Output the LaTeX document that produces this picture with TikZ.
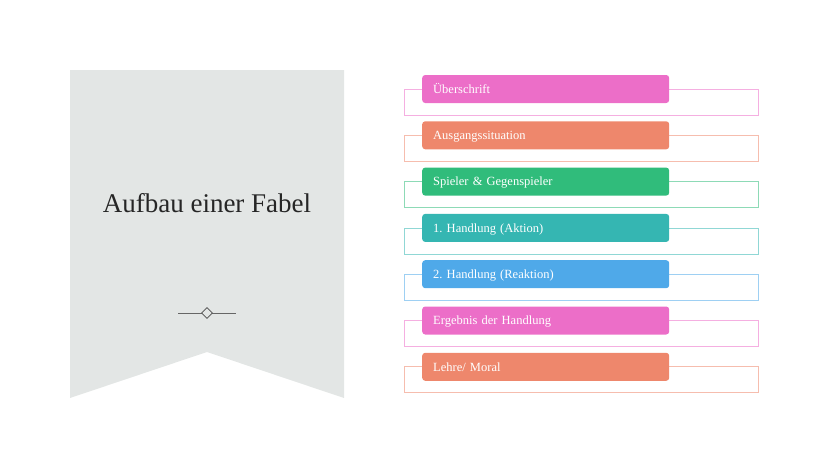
\documentclass[tikz,border=0pt]{standalone}
\usepackage{fontspec}
\setmainfont{Liberation Serif}
\usepackage{tikz}
\usetikzlibrary{shapes.geometric}
\frenchspacing
\definecolor{bannergray}{HTML}{E3E6E5}
\definecolor{fpink}{HTML}{EC6EC8}
\definecolor{fsalmon}{HTML}{EE876C}
\definecolor{fgreen}{HTML}{30BC7B}
\definecolor{fteal}{HTML}{35B6B2}
\definecolor{fblue}{HTML}{4FA9E9}
\tikzset{
  itembox/.style={fill=#1, rounded corners=3pt, minimum width=247pt, minimum height=28pt,
    text width=225pt, inner xsep=11pt, align=left, anchor=west, text=white,
    text height=8.5pt, text depth=0pt, font=\fontsize{12.5}{14}\selectfont},
  itemframe/.style={draw=#1!55, line width=0.8pt}
}
\begin{document}
\begin{tikzpicture}[x=1pt,y=-1pt]
\useasboundingbox (0,0) rectangle (828,466);
% banner
\fill[bannergray] (70,70) -- (344,70) -- (344,398) -- (207,352) -- (70,398) -- cycle;
\node[text=black!85] (title) at (207,203) {\fontsize{27}{30}\selectfont Aufbau einer Fabel};
\draw[black!60, line width=0.8pt] (178,313) -- (236,313);
\node[diamond, draw=black!70, fill=bannergray, line width=0.8pt, minimum size=11pt, inner sep=0pt] (orn) at (207,313) {};
% items
\foreach \i/\c/\t in {0/fpink/{\"Uberschrift}, 1/fsalmon/{Ausgangssituation}, 2/fgreen/{Spieler \& Gegenspieler},
  3/fteal/{1. Handlung (Aktion)}, 4/fblue/{2. Handlung (Reaktion)}, 5/fpink/{Ergebnis der Handlung}, 6/fsalmon/{Lehre/ Moral}}{
\draw[itemframe=\c] (404,89+46.3*\i) rectangle (758,115+46.3*\i);
\node[itembox=\c] (b\i) at (422,89+46.3*\i) {\t};}
\end{tikzpicture}
\end{document}
